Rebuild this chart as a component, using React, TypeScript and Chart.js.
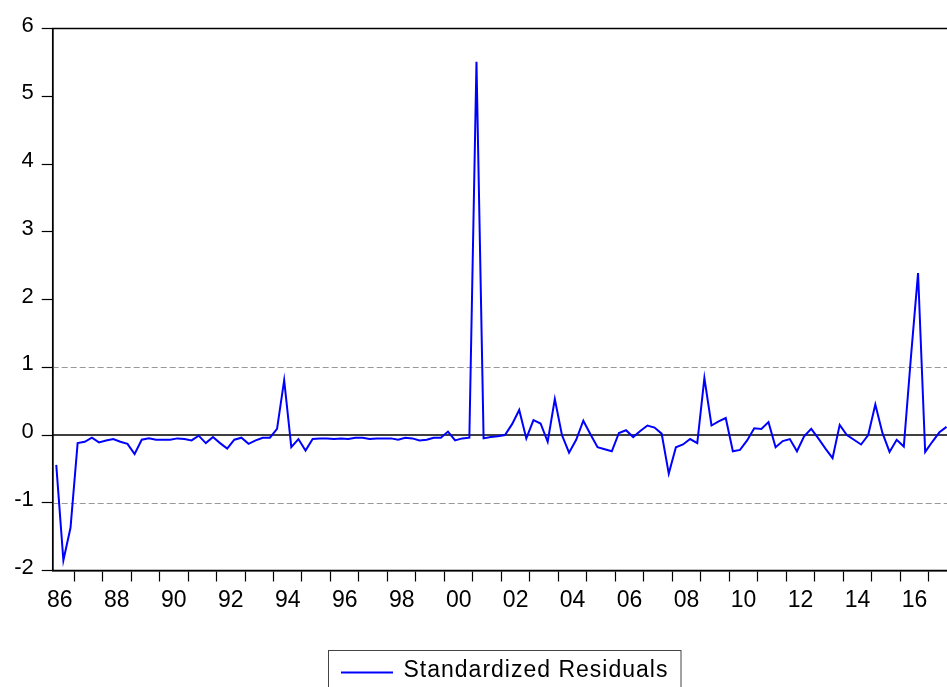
import { useEffect, useRef } from 'react';
import { Chart, registerables } from 'chart.js';

Chart.register(...registerables);

// ---- data ----
const START_YEAR = 1986;
const START_QUARTER = 2;

const residuals: number[] = [
  -0.44, -1.85, -1.37, -0.12, -0.10, -0.04, -0.11, -0.08, -0.06, -0.10,
  -0.13, -0.28, -0.07, -0.05, -0.07, -0.07, -0.07, -0.05, -0.06, -0.08,
  -0.01, -0.12, -0.03, -0.12, -0.20, -0.07, -0.04, -0.13, -0.08, -0.04,
  -0.04, 0.09, 0.81, -0.18, -0.06, -0.23, -0.06, -0.05, -0.05, -0.06,
  -0.05, -0.06, -0.04, -0.04, -0.06, -0.05, -0.05, -0.05, -0.07, -0.04,
  -0.05, -0.08, -0.07, -0.04, -0.04, 0.05, -0.08, -0.05, -0.04, 5.51,
  -0.05, -0.03, -0.02, 0.00, 0.16, 0.37, -0.05, 0.22, 0.17, -0.10,
  0.53, 0.00, -0.26, -0.07, 0.21, 0.01, -0.18, -0.21, -0.24, 0.03,
  0.07, -0.03, 0.06, 0.14, 0.11, 0.02, -0.57, -0.18, -0.14, -0.06,
  -0.12, 0.84, 0.14, 0.20, 0.25, -0.24, -0.22, -0.08, 0.10, 0.09,
  0.19, -0.18, -0.09, -0.06, -0.24, -0.02, 0.09, -0.05, -0.20, -0.34,
  0.15, 0.00, -0.07, -0.14, 0.00, 0.45, 0.03, -0.25, -0.07, -0.17,
  1.15, 2.39, -0.25, -0.10, 0.04, 0.12,
];

const quarterLabels: string[] = residuals.map((_, i) => {
  const q = START_QUARTER - 1 + i;
  return `${START_YEAR + Math.floor(q / 4)}Q${(q % 4) + 1}`;
});

const xTickLabels: string[] = ['86', '88', '90', '92', '94', '96', '98', '00', '02', '04', '06', '08', '10', '12', '14', '16'];
const yTickValues: number[] = [-2, -1, 0, 1, 2, 3, 4, 5, 6];
const dashedRefValues: number[] = [1, -1];
const solidRefValues: number[] = [0];
const legendLabel = 'Standardized Residuals';

// ---- helpers ----
const quarterCenter = (label: string) => {
  const [y, q] = label.split('Q');
  return Number(y) + (Number(q) - 0.5) / 4;
};
const labelYear = (s: string) => {
  const n = Number(s);
  return n >= 50 ? 1900 + n : 2000 + n;
};
const xMin = quarterCenter(quarterLabels[0]) - 0.125;
const xMax = quarterCenter(quarterLabels[quarterLabels.length - 1]) + 0.125;
const labelMap = new Map<string, string>();
xTickLabels.forEach((l) => labelMap.set((labelYear(l) + 0.5).toFixed(2), l));
const yearTicks: number[] = [];
for (let y = Math.ceil(xMin); y < xMax; y++) yearTicks.push(y);
const xTicksAll = [
  ...yearTicks,
  ...xTickLabels.map((l) => labelYear(l) + 0.5),
].sort((a, b) => a - b);

const FONT = '"Liberation Sans", Arial, Helvetica, sans-serif';

const decorPlugin = {
  id: 'decor',
  beforeDatasetsDraw(chart: any) {
    const { ctx, chartArea } = chart;
    const y = chart.scales.y;
    ctx.save();
    dashedRefValues.forEach((v) => {
      const py = Math.round(y.getPixelForValue(v)) + 0.5;
      ctx.strokeStyle = '#999999';
      ctx.lineWidth = 1;
      ctx.setLineDash([6, 3]);
      ctx.beginPath();
      ctx.moveTo(chartArea.left, py);
      ctx.lineTo(chartArea.right, py);
      ctx.stroke();
    });
    ctx.setLineDash([]);
    solidRefValues.forEach((v) => {
      const py = y.getPixelForValue(v);
      ctx.strokeStyle = '#000000';
      ctx.lineWidth = 1.5;
      ctx.beginPath();
      ctx.moveTo(chartArea.left, py);
      ctx.lineTo(chartArea.right, py);
      ctx.stroke();
    });
    ctx.restore();
  },
  afterDraw(chart: any) {
    const { ctx, chartArea } = chart;
    ctx.save();
    // frame
    ctx.strokeStyle = '#000';
    ctx.lineWidth = 1.5;
    ctx.strokeRect(chartArea.left, chartArea.top, chartArea.right - chartArea.left, chartArea.bottom - chartArea.top);
    // legend
    ctx.strokeStyle = '#444';
    ctx.lineWidth = 1;
    ctx.strokeRect(328.5, 650.5, 352.5, 60);
    ctx.strokeStyle = '#0000ff';
    ctx.lineWidth = 2;
    ctx.beginPath();
    ctx.moveTo(341, 672.5);
    ctx.lineTo(393, 672.5);
    ctx.stroke();
    ctx.fillStyle = '#000';
    ctx.font = `23px ${FONT}`;
    (ctx as any).letterSpacing = '1px';
    ctx.textBaseline = 'alphabetic';
    ctx.textAlign = 'left';
    ctx.fillText(legendLabel, 403.5, 676.5);
    ctx.restore();
  },
};

export default function App() {
  const canvasRef = useRef<HTMLCanvasElement | null>(null);

  useEffect(() => {
    document.body.style.margin = '0';
    const canvas = canvasRef.current;
    if (!canvas) return;
    const chart = new Chart(canvas, {
      type: 'line',
      data: {
        datasets: [
          {
            label: legendLabel,
            data: residuals.map((v, i) => ({ x: quarterCenter(quarterLabels[i]), y: v })),
            borderColor: '#0000ff',
            borderWidth: 2,
            pointRadius: 0,
            tension: 0,
            fill: false,
          },
        ],
      },
      options: {
        responsive: false,
        animation: false,
        devicePixelRatio: 1,
        layout: { padding: { top: 28.5, left: 0, right: 9.9, bottom: 0 } },
        plugins: { legend: { display: false }, tooltip: { enabled: false } },
        scales: {
          x: {
            type: 'linear',
            min: xMin,
            max: xMax,
            afterBuildTicks: (axis: any) => {
              axis.ticks = xTicksAll.map((v) => ({ value: v }));
            },
            afterFit: (axis: any) => {
              axis.height = 116.5;
            },
            ticks: {
              autoSkip: false,
              maxRotation: 0,
              minRotation: 0,
              padding: 5,
              color: '#000',
              font: { family: FONT, size: 23 },
              callback: (value: any) => labelMap.get(Number(value).toFixed(2)) ?? '',
            },
            grid: {
              drawOnChartArea: false,
              drawTicks: true,
              tickLength: 11,
              tickWidth: 1.2,
              color: (c: any) => (Number.isInteger(c.tick?.value) ? '#000' : 'rgba(0,0,0,0)'),
              tickColor: (c: any) => (Number.isInteger(c.tick?.value) ? '#000' : 'rgba(0,0,0,0)'),
            },
            border: { display: true, color: '#000', width: 1.5 },
          },
          y: {
            type: 'linear',
            min: -2,
            max: 6,
            afterBuildTicks: (axis: any) => {
              axis.ticks = yTickValues.map((v) => ({ value: v }));
            },
            afterFit: (axis: any) => {
              axis.width = 52.7;
            },
            ticks: {
              padding: 8,
              labelOffset: -3,
              color: '#000',
              font: { family: FONT, size: 22 },
            },
            grid: {
              drawOnChartArea: false,
              drawTicks: true,
              tickLength: 11,
              tickWidth: 1.2,
              color: '#000',
              tickColor: '#000',
            },
            border: { display: true, color: '#000', width: 1.5 },
          },
        },
      },
      plugins: [decorPlugin],
    } as any);
    return () => chart.destroy();
  }, []);

  return (
    <div style={{ width: 947, height: 687, overflow: 'hidden', position: 'relative', background: '#fff' }}>
      <canvas ref={canvasRef} width={960} height={687} style={{ width: 960, height: 687, display: 'block' }} />
    </div>
  );
}
